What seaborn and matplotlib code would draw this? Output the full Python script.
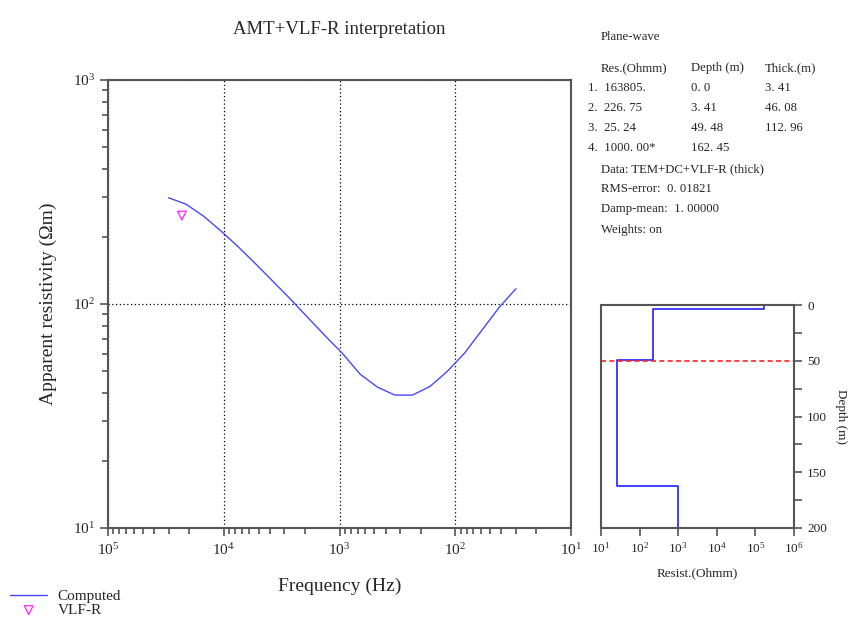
import numpy as np
import pandas as pd
import seaborn as sns
import matplotlib.pyplot as plt
from matplotlib.ticker import LogLocator, NullFormatter, MultipleLocator

# Computed AMT curve (frequency in Hz, apparent resistivity in Ohm-m)
freq = [30000, 21200, 15000, 10600, 7500, 5300, 3750, 2650, 1880, 1330, 940,
        665, 470, 333, 235, 166, 118, 83, 59, 42, 30]
rho_computed = [298, 279, 247, 212, 180, 151, 126, 105, 87, 72, 60,
                48.6, 42.5, 39.2, 39.2, 42.8, 49.9, 60.5, 76.4, 96.4, 117]

# VLF-R measurement
vlf_freq = [23000]
vlf_rho = [248]

# layered model
layer_res = [163805, 226.75, 25.24, 1000.0]
layer_top = [0.0, 3.41, 49.48, 162.45]
max_depth = 200
red_depth = 50.6

sns.set_theme(style="ticks")
plt.rcParams['font.family'] = ['Liberation Serif', 'DejaVu Serif']
plt.rcParams['mathtext.fontset'] = 'stix'

df = pd.DataFrame({"freq": freq, "rho": rho_computed})
vlf = pd.DataFrame({"freq": vlf_freq, "rho": vlf_rho})

fig = plt.figure(figsize=(8.5, 6.21), dpi=100)
ax = fig.add_axes([0.127, 0.1498, 0.545, 0.7214])
ax2 = fig.add_axes([0.7071, 0.1498, 0.227, 0.359])

spine_col = "#555555"

# main curve
sns.lineplot(data=df, x="freq", y="rho", ax=ax, color="#4848ff", lw=1.0,
             sort=False, estimator=None, label="Computed")
sns.scatterplot(data=vlf, x="freq", y="rho", ax=ax, marker="v", s=40,
                facecolors="none", edgecolor="#ff33ff", linewidth=1.0, label="VLF-R")
ax.set_xscale("log")
ax.set_yscale("log")
ax.set_xlim(1e5, 1e1)
ax.set_ylim(1e1, 1e3)
ax.xaxis.set_minor_locator(LogLocator(base=10, subs=np.arange(2, 10)))
ax.yaxis.set_minor_locator(LogLocator(base=10, subs=np.arange(2, 10)))
ax.xaxis.set_minor_formatter(NullFormatter())
ax.yaxis.set_minor_formatter(NullFormatter())
ax.grid(which="major", ls=(0, (1, 2)), color="black", lw=0.9)
ax.tick_params(which="major", direction="out", length=6, width=1.2, color=spine_col,
               labelsize=11)
ax.tick_params(axis="x", which="major", pad=4.5)
ax.tick_params(axis="y", which="major", pad=3)
ax.tick_params(which="minor", direction="out", length=4, width=1.2, color=spine_col)
for s in ax.spines.values():
    s.set_visible(True)
    s.set_color(spine_col)
    s.set_linewidth(1.5)
ax.set_xlabel("Frequency (Hz)", fontsize=14, labelpad=14)
ax.set_ylabel("Apparent resistivity (Ωm)", fontsize=14, labelpad=12)
ax.set_title("AMT+VLF-R interpretation", fontsize=13.5, pad=33)

h, l = ax.get_legend_handles_labels()
ax.get_legend().remove()
fig.legend(h, l, loc="lower left", bbox_to_anchor=(-0.004, -0.016), frameon=False,
           fontsize=11, handlelength=2.4, labelspacing=0.0, handletextpad=0.7)

# layered model as steps
step_x, step_y = [], []
bottoms = layer_top[1:] + [max_depth]
for r, t, b in zip(layer_res, layer_top, bottoms):
    step_x += [r, r]
    step_y += [t, b]
model = pd.DataFrame({"res": step_x, "depth": step_y})
sns.lineplot(data=model, x="res", y="depth", ax=ax2, color="#2020ff", lw=1.2,
             sort=False, estimator=None)
ax2.axhline(red_depth, color="#ff2020", ls=(0, (3, 2)), lw=1.2)
ax2.set_xscale("log")
ax2.set_xlim(1e1, 1e6)
ax2.set_ylim(max_depth, 0)
ax2.xaxis.set_major_locator(LogLocator(base=10, numticks=10))
ax2.xaxis.set_minor_locator(LogLocator(base=10, subs=[]))
ax2.yaxis.set_major_locator(MultipleLocator(50))
ax2.yaxis.set_minor_locator(MultipleLocator(25))
ax2.yaxis.tick_right()
ax2.yaxis.set_label_position("right")
ax2.tick_params(which="major", direction="out", length=6, width=1.2, color=spine_col,
                labelsize=9.5)
ax2.tick_params(which="minor", direction="out", length=6, width=1.2, color=spine_col)
for s in ax2.spines.values():
    s.set_visible(True)
    s.set_color(spine_col)
    s.set_linewidth(1.5)
ax2.set_xlabel("Resist.(Ohmm)", fontsize=9.5, labelpad=8)
ax2.set_ylabel("Depth (m)", fontsize=9.5, rotation=270, labelpad=14)

# parameter text block
fs = 9.2
def fx(px):
    return px / 850
def fy(py):
    return 1 - py / 621

fig.text(fx(601), fy(37), "Plane-wave", fontsize=fs, va="center")
fig.text(fx(601), fy(68), "Res.(Ohmm)", fontsize=fs, va="center")
fig.text(fx(691), fy(68), "Depth (m)", fontsize=fs, va="center")
fig.text(fx(765), fy(68), "Thick.(m)", fontsize=fs, va="center")
rows = [("1.  163805.", "0. 0", "3. 41"),
        ("2.  226. 75", "3. 41", "46. 08"),
        ("3.  25. 24", "49. 48", "112. 96"),
        ("4.  1000. 00*", "162. 45", "")]
for i, (a, b, c) in enumerate(rows):
    y = fy(88 + 20 * i)
    fig.text(fx(588), y, a, fontsize=fs, va="center")
    fig.text(fx(691), y, b, fontsize=fs, va="center")
    fig.text(fx(765), y, c, fontsize=fs, va="center")
fig.text(fx(601), fy(169), "Data: TEM+DC+VLF-R (thick)", fontsize=fs, va="center")
fig.text(fx(601), fy(189), "RMS-error:  0. 01821", fontsize=fs, va="center")
fig.text(fx(601), fy(209), "Damp-mean:  1. 00000", fontsize=fs, va="center")
fig.text(fx(601), fy(230), "Weights: on", fontsize=fs, va="center")

fig.savefig("out.png", dpi=100, facecolor="white")
